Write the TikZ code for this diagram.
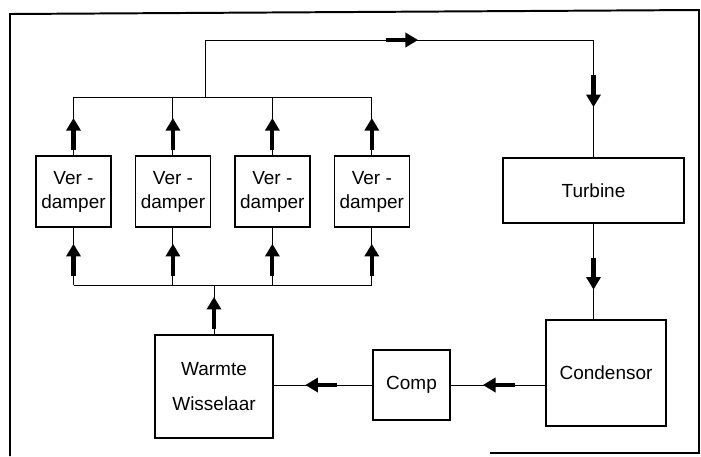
\documentclass[tikz,border=0pt]{standalone}
\usepackage{fontspec}
\setmainfont{Liberation Sans}
\usetikzlibrary{positioning, arrows.meta, decorations.markings}

\newcommand{\stroompijl}{%
  \draw[line width=3pt, -{Triangle[length=9pt,width=10pt]}] (-0.8cm,0) -- (0,0);}

\begin{document}
\begin{tikzpicture}[
  x=0.025cm, y=-0.025cm,
  blok/.style={
    rectangle, draw, line width=1pt, align=center,
    font=\fontsize{13.5}{17}\selectfont, inner sep=2pt
  },
  vdblok/.style={blok, minimum width=1.875cm, minimum height=1.775cm},
  leiding/.style={line width=0.7pt},
  flow/.style={
    leiding,
    postaction={decorate, decoration={markings,
      mark=at position #1 with {\stroompijl}}}
  },
]
\useasboundingbox (0,0) rectangle (701,456);

% kader
\draw[line width=1.4pt] (490,453) -- (699,453) -- (699,10) -- (10,14) -- (10,456);

% Verdampers
\node[vdblok] (vd1) at (73.5,191.5) {Ver -\\damper};
\node[vdblok, right=0.575cm of vd1] (vd2) {Ver -\\damper};
\node[vdblok, right=0.575cm of vd2] (vd3) {Ver -\\damper};
\node[vdblok, right=0.575cm of vd3] (vd4) {Ver -\\damper};

% overige componenten
\node[blok, minimum width=4.525cm, minimum height=1.625cm] (turb) at (593.5,190.5) {Turbine};
\node[blok, minimum width=3cm, minimum height=2.65cm] (cond) at (606,373) {Condensor};
\node[blok, minimum width=1.925cm, minimum height=1.75cm] (comp) at (411.5,385) {Comp};
\node[blok, minimum width=2.95cm, minimum height=2.575cm] (ww) at (214,386.5) {Warmte\\[8pt]Wisselaar};

% verzamelleidingen
\coordinate (bovenbus) at (205,97);
\coordinate (onderbus) at (211,285);
\coordinate (bocht) at (205,40);

\draw[leiding] (vd1.north |- bovenbus) -- (vd4.north |- bovenbus);
\draw[leiding] (vd1.south |- onderbus) -- (vd4.south |- onderbus);

\foreach \i in {1,...,4} {
  \draw[flow=0.64] (vd\i.north) -- (vd\i.north |- bovenbus);
  \draw[flow=0.72] (vd\i.south |- onderbus) -- (vd\i.south);
}

\draw[flow=0.76] (ww.north) -- (ww.north |- onderbus);

% stoom naar turbine
\draw[flow=0.48, flow=0.911] (bovenbus) -- (bocht) -- (bocht -| turb.north) -- (turb.north);

% kringloop terug
\draw[flow=0.69] (turb.south) -- (turb.south |- cond.north);
\draw[flow=0.66] (comp.east -| cond.west) -- (comp.east);
\draw[flow=0.68] (comp.west) -- (comp.west -| ww.east);

\end{tikzpicture}
\end{document}
